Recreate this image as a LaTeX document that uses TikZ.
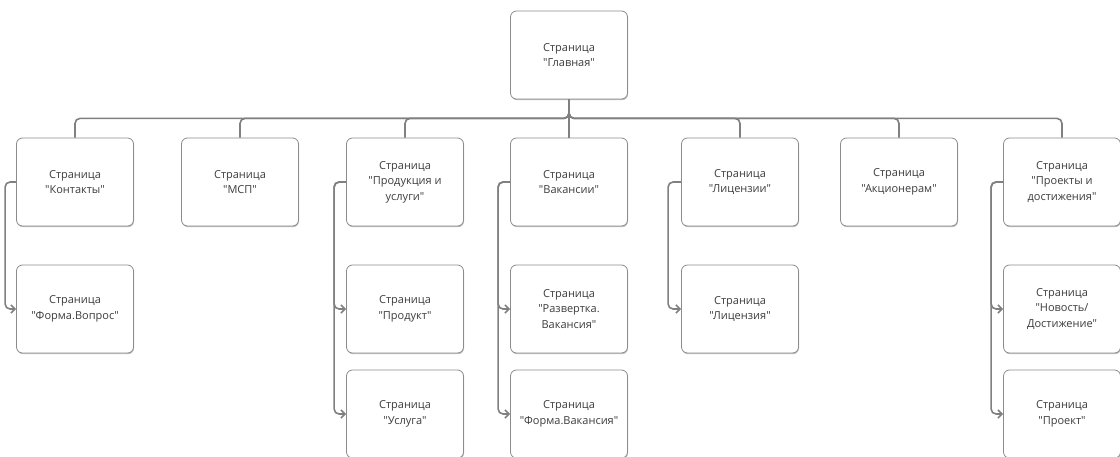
\documentclass[tikz,border=0pt]{standalone}
\usepackage{fontspec}
\setmainfont{Open Sans}[Ligatures=TeXOff]
\usetikzlibrary{arrows.meta,positioning,shadows}
\definecolor{linegray}{RGB}{128,128,128}
\definecolor{boxgray}{RGB}{140,140,140}
\definecolor{textgray}{RGB}{60,60,60}

\begin{document}
\begin{tikzpicture}[x=1pt, y=-1pt,
    pagebox/.style={rectangle, draw=boxgray, line width=0.8pt, fill=white,
        minimum width=117pt, minimum height=88pt, rounded corners=6pt,
        align=center, font=\fontsize{11}{15.5}\selectfont, text=textgray,
        drop shadow={shadow xshift=0.6pt, shadow yshift=-1.2pt, fill=black!40, opacity=0.6}},
    bus/.style={draw=linegray, line width=1.6pt, rounded corners=5pt},
    arr/.style={bus, -{Straight Barb[length=4pt, width=8pt]}}
]
    \useasboundingbox (0,0) rectangle (1120,457);
    \clip (0,0) rectangle (1120,457);

    % main page
    \node[pagebox] (main) at (569,55) {Страница\\"Главная"};

    % first level
    \node[pagebox] (kontakty)   at (75,182)   {Страница\\"Контакты"};
    \node[pagebox] (msp)        at (240,182)  {Страница\\"МСП"};
    \node[pagebox] (produkcia)  at (405,182)  {Страница\\"Продукция и\\услуги"};
    \node[pagebox] (vakansii)   at (569,182)  {Страница\\"Вакансии"};
    \node[pagebox] (licenzii)   at (740,182)  {Страница\\"Лицензии"};
    \node[pagebox] (akcioneram) at (899,182)  {Страница\\"Акционерам"};
    \node[pagebox] (proekty)    at (1062,182) {Страница\\"Проекты и\\достижения"};

    % second level
    \node[pagebox] (forma)     at (75,309)   {Страница\\"Форма.Вопрос"};
    \node[pagebox] (produkt)   at (405,309)  {Страница\\"Продукт"};
    \node[pagebox] (razvertka) at (569,309)  {Страница\\"Развертка.\\Вакансия"};
    \node[pagebox] (licenzia)  at (740,309)  {Страница\\"Лицензия"};
    \node[pagebox] (novost)    at (1062,309) {Страница\\"Новость/\\Достижение"};

    \node[pagebox] (usluga)   at (405,414)  {Страница\\"Услуга"};
    \node[pagebox] (formavak) at (569,414)  {Страница\\"Форма.Вакансия"};
    \node[pagebox] (proekt)   at (1062,414) {Страница\\"Проект"};

    % bus from the main page
    \foreach \c in {kontakty,msp,produkcia,vakansii,licenzii,akcioneram,proekty}
        \draw[bus] (main.south) -- ++(0,19) -| (\c.north);

    % child pages
    \draw[arr] (kontakty.west) -- ++(-11,0) |- (forma.west);
    \draw[arr] (produkcia.west) -- ++(-12,0) |- (produkt.west);
    \draw[arr] (produkcia.west) -- ++(-12,0) |- (usluga.west);
    \draw[arr] (vakansii.west) -- ++(-12,0) |- (razvertka.west);
    \draw[arr] (vakansii.west) -- ++(-12,0) |- (formavak.west);
    \draw[arr] (licenzii.west) -- ++(-13,0) |- (licenzia.west);
    \draw[arr] (proekty.west) -- ++(-12,0) |- (novost.west);
    \draw[arr] (proekty.west) -- ++(-12,0) |- (proekt.west);
\end{tikzpicture}
\end{document}
